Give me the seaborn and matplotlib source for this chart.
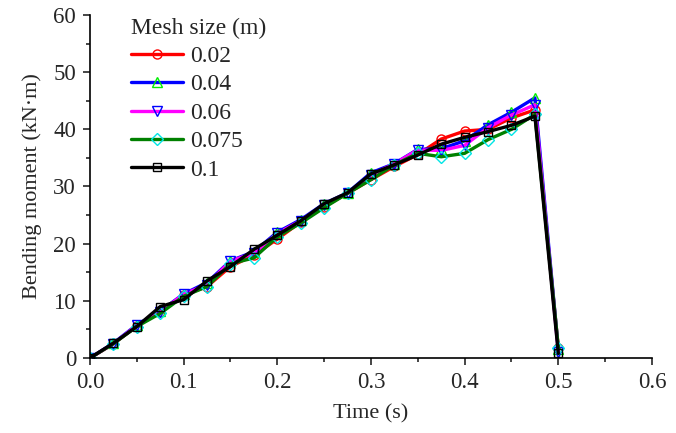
import matplotlib
matplotlib.use("Agg")
import matplotlib.pyplot as plt
from matplotlib.ticker import MultipleLocator
import seaborn as sns
import pandas as pd

time = [0.0, 0.025, 0.05, 0.075, 0.1, 0.125, 0.15, 0.175, 0.2, 0.225, 0.25,
        0.275, 0.3, 0.325, 0.35, 0.375, 0.4, 0.425, 0.45, 0.475, 0.5]
m_002 = [0.0, 2.5, 5.6, 8.0, 11.0, 12.5, 16.0, 18.0, 20.8, 23.8, 26.5,
         28.8, 31.2, 33.5, 35.6, 38.3, 39.7, 40.0, 42.0, 43.4, 1.8]
m_004 = [0.0, 2.6, 5.8, 8.2, 11.2, 13.2, 17.0, 18.6, 22.0, 24.2, 27.0,
         28.9, 32.4, 34.0, 36.5, 36.6, 38.0, 40.8, 43.0, 45.5, 1.5]
m_006 = [0.0, 2.5, 5.7, 8.0, 11.2, 12.8, 17.0, 18.3, 21.8, 24.0, 26.8,
         28.8, 32.0, 34.0, 36.4, 36.3, 37.2, 40.3, 42.5, 44.3, 1.0]
m_0075 = [0.0, 2.5, 5.5, 7.8, 10.8, 12.5, 16.5, 17.5, 21.2, 23.6, 26.3,
          28.8, 31.2, 33.8, 35.8, 35.2, 35.8, 38.2, 40.0, 42.6, 1.8]
m_01 = [0.0, 2.6, 5.5, 9.0, 10.2, 13.5, 16.0, 19.0, 21.5, 24.0, 27.0,
        28.9, 32.2, 33.8, 35.5, 37.4, 38.6, 39.6, 40.7, 42.3, 0.8]

labels = ["0.02", "0.04", "0.06", "0.075", "0.1"]
series = [m_002, m_004, m_006, m_0075, m_01]
line_colors = ["#ff0000", "#0000ff", "#ff00ff", "#008000", "#000000"]
edge_colors = ["#ff0000", "#00ee00", "#0000ff", "#00e5e5", "#000000"]
markers = ["o", "^", "v", "D", "s"]
msizes = [6.5, 7.5, 7.5, 6.5, 6.0]

sns.set_style("ticks")
plt.rcParams["font.family"] = ["Liberation Serif", "DejaVu Serif"]

fig = plt.figure(figsize=(6.76, 4.33), dpi=100)
ax = fig.add_axes([0.1331, 0.1732, 0.8314, 0.7922])

for lab, vals, lc, ec, mk, ms in zip(labels, series, line_colors, edge_colors, markers, msizes):
    df = pd.DataFrame({"t": time, "v": vals})
    sns.lineplot(data=df, x="t", y="v", ax=ax, color=lc, lw=2.4, marker=mk,
                 markersize=ms, markerfacecolor="none", markeredgecolor=ec,
                 markeredgewidth=1.0, label=lab, sort=False)

ax.set_xlim(0, 0.6)
ax.set_ylim(0, 60)
ax.xaxis.set_major_locator(MultipleLocator(0.1))
ax.xaxis.set_minor_locator(MultipleLocator(0.05))
ax.yaxis.set_major_locator(MultipleLocator(10))
ax.yaxis.set_minor_locator(MultipleLocator(5))
ax.xaxis.set_major_formatter(matplotlib.ticker.FormatStrFormatter("%.1f"))
ax.tick_params(which="major", direction="out", length=5, width=1.2, labelsize=16.5, pad=5)
ax.tick_params(which="minor", direction="out", length=3, width=1.2)
for s in ["top", "right"]:
    ax.spines[s].set_visible(False)
for s in ["left", "bottom"]:
    ax.spines[s].set_linewidth(1.2)
    ax.spines[s].set_color("black")

ax.set_xlabel("Time (s)", fontsize=16, labelpad=8)
ax.set_ylabel("Bending moment (kN\u00b7m)", fontsize=16, labelpad=8)

leg = ax.legend(title="Mesh size (m)", loc="upper left", bbox_to_anchor=(0.056, 1.02),
                frameon=False, fontsize=17, title_fontsize=17, handlelength=2.2,
                handletextpad=0.3, labelspacing=0.29, borderaxespad=0.0,
                alignment="left")

fig.savefig("out.png", dpi=100)
